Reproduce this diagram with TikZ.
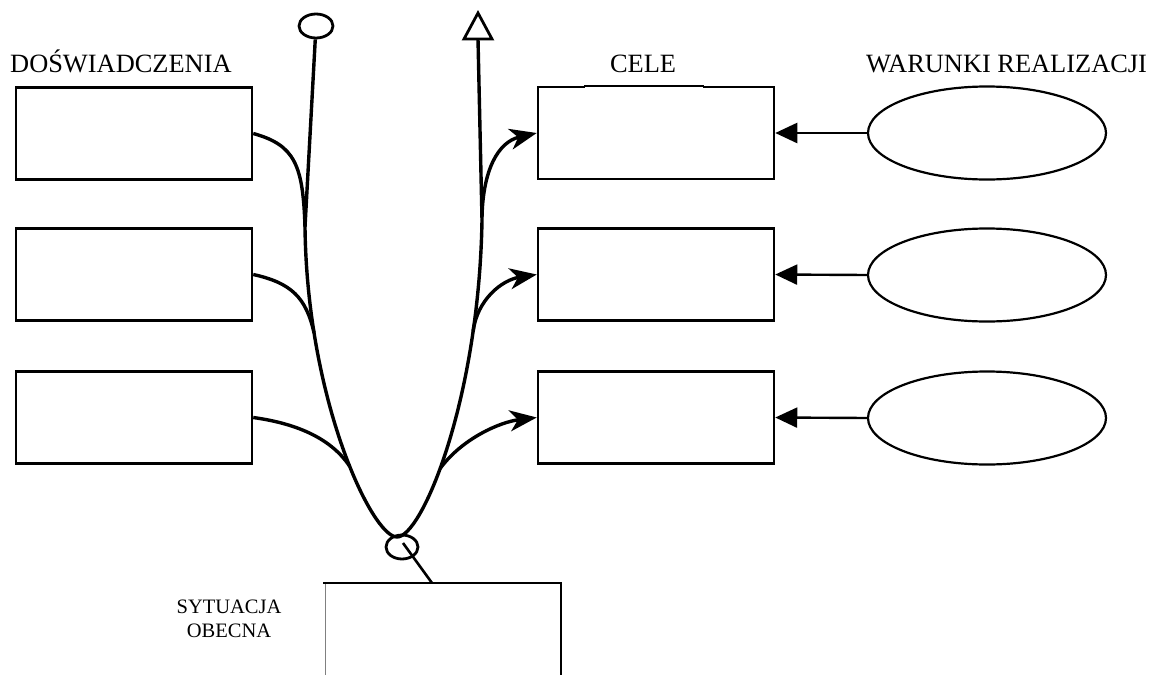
\documentclass[tikz,border=0pt]{standalone}
\usepackage{fontspec}
\setmainfont{Liberation Serif}
\usetikzlibrary{shapes.geometric,arrows.meta}
\begin{document}
\begin{tikzpicture}[x=1pt,y=-1pt,
  box/.style={draw,line width=2.5pt,minimum width=236pt,minimum height=92pt,inner sep=0pt},
  oval/.style={draw,ellipse,line width=2.2pt,minimum width=238pt,minimum height=93pt,inner sep=0pt},
  knot/.style={draw,ellipse,line width=2.8pt,inner sep=0pt},
  flow/.style={line width=3.4pt},
  toarrow/.style={flow,-{Stealth[length=27pt,width=21pt,inset=8pt]}},
  condarrow/.style={line width=2.4pt,-{Triangle[length=22pt,width=20pt]}},
  big/.style={font=\fontsize{26.4pt}{29pt}\selectfont,inner sep=0pt},
  small/.style={font=\fontsize{20.5pt}{24pt}\selectfont,inner sep=0pt,align=center}
]
\useasboundingbox (0,0) rectangle (1152,675);
\fill[white] (0,0) rectangle (1152,675);

% labels
\node[big,anchor=base west] (ldosw) at (10,72) {DOŚWIADCZENIA};
\node[big,anchor=base] (lcele) at (643,72) {CELE};
\node[big,anchor=base west] (lwar) at (866,72) {WARUNKI REALIZACJI};

% left boxes
\node[box] (d1) at (134,133.5) {};
\node[box] (d2) at (134,274.5) {};
\node[box] (d3) at (134,417.5) {};
% right boxes
\node[box] (c1) at (656,133) {};
\node[box] (c2) at (656,274.5) {};
\node[box] (c3) at (656,417.5) {};
% thin middle part of top edge of first goal box
\draw[white,line width=3.2pt] (585,86) -- (703,86);
\draw[line width=1.1pt] (584,86) -- (704,86);

% ellipses
\node[oval] (w1) at (987,133) {};
\node[oval] (w2) at (987,275) {};
\node[oval] (w3) at (987,418) {};

\draw[condarrow] (w1.west) -- (c1.east);
\draw[condarrow] (w2.west) -- (c2.east);
\draw[condarrow] (w3.west) -- (c3.east);

% knots
\node[knot,minimum width=34pt,minimum height=24pt] (topc) at (316,26) {};
\node[knot,minimum width=32pt,minimum height=24pt] (botc) at (402,547) {};

% coordinates of the main U path
\coordinate (jl) at (305,227);
\coordinate (bot) at (397,537);
\coordinate (jr) at (482,220);
\coordinate (trib) at (478,39);

% main U
\draw[flow] (topc) -- (jl)
  .. controls (307,400) and (372,537) .. coordinate[pos=0.215] (jl2) coordinate[pos=0.56] (jl3) (bot)
  .. controls (422,537) and (479,400) .. coordinate[pos=0.78] (jr2) coordinate[pos=0.43] (jr3) (jr);
\draw[flow] (jr) -- (trib);
% open triangle at the top of the goal line
\draw[line width=2.8pt,line join=miter,fill=white] (478,13) -- (492,39) -- (464,39) -- cycle;

% experiences into the U
\draw[flow] (d1.east) .. controls (295,145) and (303,165) .. (jl);
\draw[flow] (d2.east) .. controls (292,283) and (306,298) .. (jl2);
\draw[flow] (d3.east) .. controls (300,424) and (332,440) .. (jl3);

% arrows to goals
\draw[toarrow] (jr) ++(0,-3) .. controls (483,170) and (498,142) .. (c1.west);
\draw[toarrow] (jr2) .. controls +(4,-32) and (502,280) .. (c2.west);
\draw[toarrow] (jr3) .. controls +(22,-30) and (500,422) .. (c3.west);

% present situation box
\coordinate (sbtop) at (432,583);
\draw[line width=1pt,gray] (325,675) -- (325,583);
\draw[line width=2.6pt] (323,583) -- (561,583) -- (561,675);
\draw[line width=2.6pt] (botc.center) ++(1,-4) -- (sbtop);
\node[small] (lsyt) at (229,613) [anchor=base] {SYTUACJA};
\node[small] (lobe) at (229,637) [anchor=base] {OBECNA};
\end{tikzpicture}
\end{document}
